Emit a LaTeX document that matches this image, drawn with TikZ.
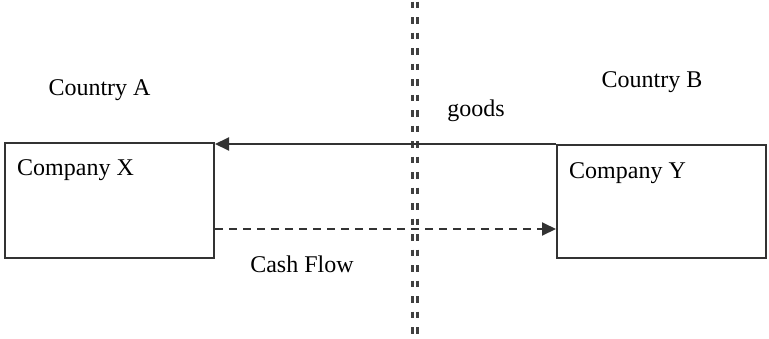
\documentclass[tikz,border=0pt]{standalone}
\usepackage{fontspec}
\setmainfont{Liberation Serif}
\usetikzlibrary{arrows.meta}
\begin{document}
\begin{tikzpicture}[x=1pt,y=-1pt,
  company/.style={draw=black!80,line width=2pt,inner sep=0pt},
  flow/.style={draw=black!80,line width=2pt,-{Triangle[length=14pt,width=13pt]}},
  cashline/.style={flow,dash pattern=on 8pt off 6pt},
  border/.style={draw=black!75,line width=2.5pt,dash pattern=on 6.5pt off 9pt},
  lbl/.style={anchor=base,inner sep=0pt,font=\fontsize{24}{28}\selectfont}]
\useasboundingbox (0,0) rectangle (769,338);
% the two companies
\node[company,minimum width=209pt,minimum height=115pt] (X) at (109.5,200.5) {};
\node[company,minimum width=209pt,minimum height=113pt] (Y) at (661.5,201.5) {};
\node[lbl,anchor=base west] (xl) at (17,175) {Company X};
\node[lbl,anchor=base west] (yl) at (569,178) {Company Y};
% the border between the two countries
\coordinate (b1t) at (412.3,1.7);
\coordinate (b1b) at (412.3,338);
\coordinate (b2t) at (417.5,1.7);
\coordinate (b2b) at (417.5,338);
\draw[border] (b1t) -- (b1b);
\draw[border] (b2t) -- (b2b);
% country labels
\node[lbl] (ca) at (99.5,95) {Country A};
\node[lbl] (cb) at (652,87) {Country B};
% goods go from Y to X
\coordinate (gx) at (X.east |- Y.north west);
\draw[flow] (Y.north west) -- (gx);
\node[lbl] (goods) at (476,116) {goods};
% cash goes from X to Y
\coordinate (cx) at (X.east |- 0,229);
\coordinate (cy) at (Y.west |- 0,229);
\draw[cashline] (cx) -- (cy);
\node[lbl] (cash) at (302,272) {Cash Flow};
\end{tikzpicture}
\end{document}
